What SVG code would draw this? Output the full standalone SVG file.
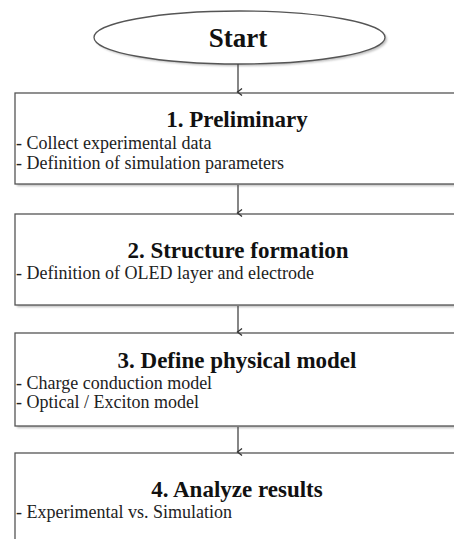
<svg xmlns="http://www.w3.org/2000/svg" width="454" height="539" viewBox="0 0 454 539">
<style>
.box{fill:#fff;stroke:#555;stroke-width:1.3}
.sh{fill:#888;opacity:0.55}
.t{font-family:"Liberation Serif","Times New Roman",serif;font-weight:bold;font-size:23px;fill:#111;text-anchor:middle}
.b{font-family:"Liberation Serif","Times New Roman",serif;font-size:18px;fill:#222}
.c{stroke:#444;stroke-width:1.3;fill:none;marker-end:url(#ah)}
</style>
<defs>
<filter id="blur" x="-5%" y="-20%" width="110%" height="140%"><feGaussianBlur stdDeviation="1"/></filter>
<marker id="ah" markerWidth="8" markerHeight="8" refX="4" refY="6" orient="auto-start-reverse" markerUnits="userSpaceOnUse" viewBox="0 0 8 8">
<path d="M0.5,2 L4,6.5 L7.5,2" fill="none" stroke="#333" stroke-width="1.3"/>
</marker>
</defs>
<g id="start">
<ellipse cx="241.5" cy="39.5" rx="145.5" ry="26.5" class="sh" filter="url(#blur)"/>
<ellipse cx="239.5" cy="37.5" rx="145.5" ry="26.5" class="box"/>
<text x="238" y="47" class="t" style="font-size:27px">Start</text>
</g>
<g id="step1">
<rect x="17" y="95" width="460" height="91" class="sh" filter="url(#blur)"/>
<rect x="15" y="93" width="460" height="91" class="box"/>
<text x="237" y="127" class="t">1. Preliminary</text>
<text x="16" y="149" class="b">- Collect experimental data</text>
<text x="16" y="169" class="b">- Definition of simulation parameters</text>
</g>
<g id="step2">
<rect x="17" y="216" width="460" height="91" class="sh" filter="url(#blur)"/>
<rect x="15" y="214" width="460" height="91" class="box"/>
<text x="238" y="258" class="t">2. Structure formation</text>
<text x="16" y="279" class="b">- Definition of OLED layer and electrode</text>
</g>
<g id="step3">
<rect x="17" y="335" width="460" height="93" class="sh" filter="url(#blur)"/>
<rect x="15" y="333" width="460" height="93" class="box"/>
<text x="237" y="368" class="t">3. Define physical model</text>
<text x="16" y="389" class="b">- Charge conduction model</text>
<text x="16" y="408" class="b">- Optical / Exciton model</text>
</g>
<g id="step4">
<rect x="17" y="455" width="460" height="100" class="sh" filter="url(#blur)"/>
<rect x="15" y="453" width="460" height="100" class="box"/>
<text x="237" y="497" class="t">4. Analyze results</text>
<text x="16" y="518" class="b">- Experimental vs. Simulation</text>
</g>
<g id="connectors">
<line x1="238" y1="64" x2="238" y2="92" class="c"/>
<line x1="238" y1="185" x2="238" y2="213" class="c"/>
<line x1="238" y1="306" x2="238" y2="332" class="c"/>
<line x1="238" y1="427" x2="238" y2="452" class="c"/>
</g>
</svg>
